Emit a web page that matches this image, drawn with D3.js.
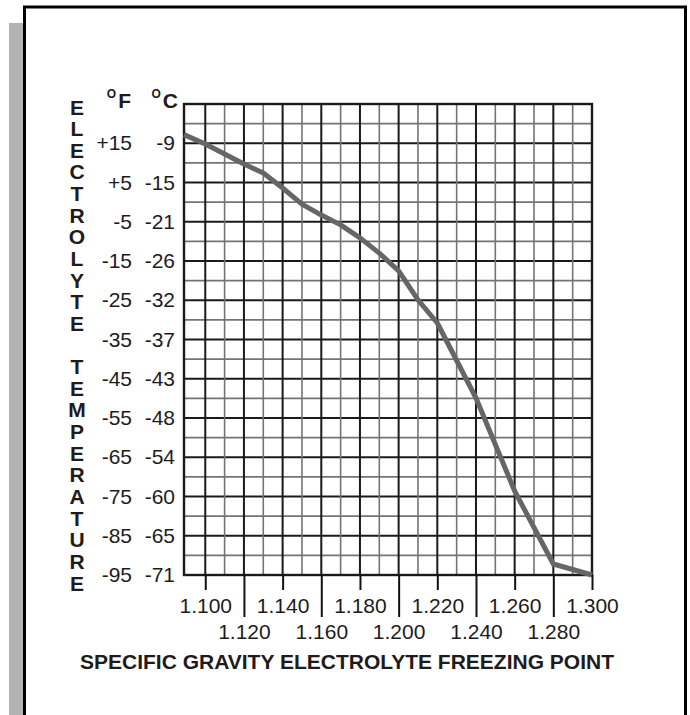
<!DOCTYPE html>
<html>
<head>
<meta charset="utf-8">
<script src="https://cdn.jsdelivr.net/npm/d3@7"></script>
<style>
  body { margin: 0; background: #fff; }
  svg { display: block; font-family: "Liberation Sans", Arial, sans-serif; }
</style>
</head>
<body>
<div id="chart"></div>
<script>
// specific gravity vs freezing point (deg F)
const gravity = [1.089, 1.100, 1.120, 1.130, 1.140, 1.150, 1.160, 1.170, 1.180, 1.190, 1.200, 1.210, 1.220, 1.240, 1.260, 1.280, 1.300];
const freezeF = [17.2, 14.8, 9.7, 7.4, 3.6, -0.5, -3.3, -5.8, -9.1, -13, -17.5, -24.9, -30.8, -49.9, -73.6, -92.2, -95];

const fTicks = [15, 5, -5, -15, -25, -35, -45, -55, -65, -75, -85, -95];
const cLabels = ["-9", "-15", "-21", "-26", "-32", "-37", "-43", "-48", "-54", "-60", "-65", "-71"];
const xTicksUpper = [1.10, 1.14, 1.18, 1.22, 1.26, 1.30];
const xTicksLower = [1.12, 1.16, 1.20, 1.24, 1.28];

const yTitle = "ELECTROLYTE TEMPERATURE";
const xTitle = "SPECIFIC GRAVITY ELECTROLYTE FREEZING POINT";

let width = 690, height = 715;
let plot = {left: 184, right: 592, top: 104, bottom: 575};
let ink = "#1e1b1c";

let svg = d3.select("#chart").append("svg")
    .attr("width", width)
    .attr("height", height);

// page frame
svg.append("rect").attr("x", 9).attr("y", 23).attr("width", 14).attr("height", height - 23).attr("fill", "#b3b3b3");
svg.append("path")
    .attr("d", "M24.5," + height + "V7H685.5V" + height)
    .attr("fill", "none").attr("stroke", "#000").attr("stroke-width", 3);

let x = d3.scaleLinear().domain([1.089, 1.300]).range([plot.left, plot.right]);
let y = d3.scaleLinear().domain([-95, 25]).range([plot.bottom, plot.top]);

let grid = svg.append("g");

// horizontal grid, every 5 deg F
d3.range(-90, 25, 5).forEach(function(v){
    let major = (v - 15) % 10 === 0;
    grid.append("line")
        .attr("x1", plot.left).attr("x2", plot.right)
        .attr("y1", y(v)).attr("y2", y(v))
        .attr("stroke", major ? "#1a1a1a" : "#747474")
        .attr("stroke-width", major ? 2 : 1.6);
});

// vertical grid, every 0.010
d3.range(110, 300, 10).forEach(function(i){
    let v = 1 + i / 1000;
    let major = i % 20 === 0;
    grid.append("line")
        .attr("x1", x(v)).attr("x2", x(v))
        .attr("y1", plot.top).attr("y2", plot.bottom)
        .attr("stroke", major ? "#1a1a1a" : "#747474")
        .attr("stroke-width", major ? 2 : 1.6);
});
grid.append("line")
    .attr("x1", x(1.10)).attr("x2", x(1.10))
    .attr("y1", plot.top).attr("y2", plot.bottom)
    .attr("stroke", "#1a1a1a").attr("stroke-width", 2);

svg.append("rect")
    .attr("x", plot.left).attr("y", plot.top)
    .attr("width", plot.right - plot.left).attr("height", plot.bottom - plot.top)
    .attr("fill", "none").attr("stroke", "#1a1a1a").attr("stroke-width", 2.4);

// freezing curve
let line = d3.line()
    .x(function(d, i){ return x(gravity[i]); })
    .y(function(d){ return y(d); })
    .curve(d3.curveLinear);

svg.append("path")
    .attr("d", line(freezeF))
    .attr("fill", "none")
    .attr("stroke", "#666666")
    .attr("stroke-width", 5)
    .attr("stroke-linejoin", "round");

// y labels, F and C columns
let fAxis = d3.axisLeft(y).tickValues(fTicks).tickSize(0).tickPadding(0)
    .tickFormat(function(d){ return d > 0 ? "+" + d : String(d); });
let cAxis = d3.axisLeft(y).tickValues(fTicks).tickSize(0).tickPadding(0)
    .tickFormat(function(d, i){ return cLabels[i]; });

[[fAxis, 132], [cAxis, 175]].forEach(function(a){
    let g = svg.append("g").attr("transform", "translate(" + a[1] + ",0)").call(a[0]);
    g.select(".domain").remove();
    g.selectAll("text")
        .attr("font-family", "Liberation Sans, Arial, sans-serif")
        .attr("font-size", 21)
        .attr("fill", ink);
});

// x axis, two staggered rows
let upper = d3.axisBottom(x).tickValues(xTicksUpper).tickSize(15).tickPadding(8).tickFormat(d3.format(".3f"));
let lower = d3.axisBottom(x).tickValues(xTicksLower).tickSize(42).tickPadding(7).tickFormat(d3.format(".3f"));
[upper, lower].forEach(function(ax){
    let g = svg.append("g").attr("transform", "translate(0," + plot.bottom + ")").call(ax);
    g.select(".domain").remove();
    g.selectAll("line").attr("stroke", "#111").attr("stroke-width", 2);
    g.selectAll("text")
        .attr("font-family", "Liberation Sans, Arial, sans-serif")
        .attr("font-size", 21)
        .attr("fill", ink);
});

// unit headers
[["F", 131], ["C", 178]].forEach(function(h){
    let t = svg.append("text")
        .attr("x", h[1]).attr("y", 108)
        .attr("text-anchor", "end")
        .attr("font-weight", "bold")
        .attr("fill", ink);
    t.append("tspan").text("O").attr("font-size", 12).attr("dy", -10);
    t.append("tspan").text(h[0]).attr("font-size", 21).attr("dx", 2).attr("dy", 10);
});

// vertical title, one letter per line
let yt = svg.append("text")
    .attr("font-size", 21)
    .attr("font-weight", "bold")
    .attr("text-anchor", "middle")
    .attr("fill", ink);
yTitle.split("").forEach(function(ch, i){
    yt.append("tspan")
        .attr("x", 77)
        .attr("y", 114.5 + i * 21.64)
        .text(ch === " " ? "\u00a0" : ch);
});

svg.append("text")
    .text(xTitle)
    .attr("x", 347)
    .attr("y", 669)
    .attr("text-anchor", "middle")
    .attr("font-size", 21)
    .attr("font-weight", "bold")
    .attr("fill", ink);
</script>
</body>
</html>
